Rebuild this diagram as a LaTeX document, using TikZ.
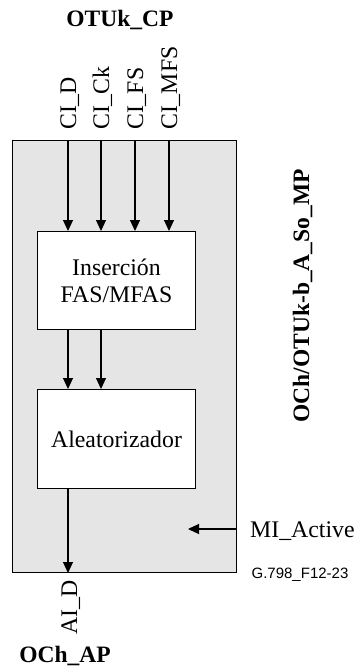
\documentclass[tikz,border=0pt]{standalone}
\usepackage{fontspec}
\setmainfont{Liberation Serif}
\newfontfamily\arialf{Liberation Sans}
\usetikzlibrary{arrows.meta}
\begin{document}
\begin{tikzpicture}[x=1pt,y=-1pt,
  lbl/.style={inner sep=0pt,font=\fontsize{23.8}{27}\selectfont},
  blbl/.style={inner sep=0pt,font=\fontsize{23.5}{27}\selectfont\bfseries},
  vlbl/.style={lbl,rotate=90,anchor=base west},
  blockbox/.style={draw,line width=1pt,fill=white,minimum width=158pt,minimum height=98pt,anchor=north west,align=center,font=\fontsize{23.8}{27}\selectfont},
  arr/.style={line width=1.1pt,-{Triangle[length=11pt,width=10pt]}}]
\useasboundingbox (0,0) rectangle (358,670);
\node[draw,line width=1pt,fill=gray!20,minimum width=224pt,minimum height=432pt,anchor=north west,inner sep=0pt] (outer) at (12,140) {};
\node[blockbox] (ins) at (37,231) {Inserción\\FAS/MFAS};
\node[blockbox,minimum height=99pt] (ale) at (37,389) {Aleatorizador};
% column coordinates
\coordinate (c1) at (68,0);
\coordinate (c2) at (101,0);
\coordinate (c3) at (135,0);
\coordinate (c4) at (169,0);
\coordinate (mi) at (188,529);
% top labels
\node[blbl] (otuk) at (120,20) {OTUk\_CP};
\node[vlbl] (cid) at (76,130) {CI\_D};
\node[vlbl] (cick) at (109,130) {CI\_Ck};
\node[vlbl] (cifs) at (143,130) {CI\_FS};
\node[vlbl] (cimfs) at (177,130) {CI\_MFS};
% arrows
\draw[arr] (c1 |- outer.north) -- (c1 |- ins.north);
\draw[arr] (c2 |- outer.north) -- (c2 |- ins.north);
\draw[arr] (c3 |- outer.north) -- (c3 |- ins.north);
\draw[arr] (c4 |- outer.north) -- (c4 |- ins.north);
\draw[arr] (c1 |- ins.south) -- (c1 |- ale.north);
\draw[arr] (c2 |- ins.south) -- (c2 |- ale.north);
\draw[arr] (c1 |- ale.south) -- (c1 |- outer.south);
\draw[arr] (outer.east |- mi) -- (mi);
% right labels
\node[lbl,anchor=base west] (miact) at (250,537) {MI\_Active};
\node[inner sep=0pt,anchor=base,font=\arialf\fontsize{15}{18}\selectfont] (fig) at (300,578) {G.798\_F12-23};
\node[blbl,rotate=90,anchor=base] (mp) at (309,296) {OCh/OTUk-b\_A\_So\_MP};
% bottom labels
\node[vlbl] (aid) at (77,635) {AI\_D};
\node[blbl,anchor=base] (och) at (65,662) {OCh\_AP};
\end{tikzpicture}
\end{document}
